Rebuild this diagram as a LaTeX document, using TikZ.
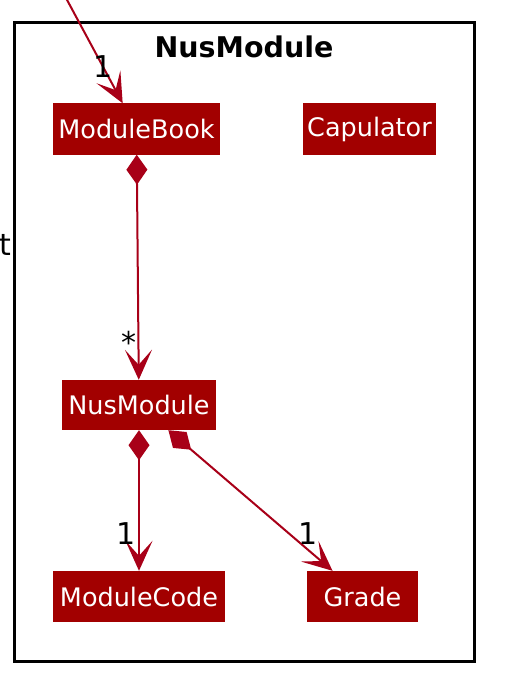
\documentclass[tikz,border=0pt]{standalone}
\usepackage{fontspec}
\setmainfont{DejaVu Sans}
\usetikzlibrary{arrows.meta}
\definecolor{boxred}{RGB}{162,0,0}
\definecolor{linered}{RGB}{168,0,24}
\begin{document}
\begin{tikzpicture}[x=1pt,y=-1pt,
  cls/.style={fill=boxred,draw=none,text=white,inner sep=0pt,font=\fontsize{25.5}{25.5}\selectfont,minimum height=51pt},
  conn/.style={draw=linered,line width=2pt},
  comp/.style={conn,{Diamond[length=30pt,width=21pt]}-{Stealth[length=30pt,width=27pt,inset=15pt]}},
  assoc/.style={conn,-{Stealth[length=30pt,width=27pt,inset=15pt]}},
  mult/.style={font=\fontsize{30}{30}\selectfont,inner sep=0pt}]
\useasboundingbox (0,0) rectangle (508,674);
\draw[line width=3pt] (14,23) rectangle (474,661);
\node[font=\bfseries\fontsize{28.5}{28.5}\selectfont] (title) at (244,47) {NusModule};
\node[cls,minimum width=167pt] (MB) at (136.5,129) {ModuleBook};
\node[cls,minimum width=133pt] (Cap) at (369.5,129) {Capulator};
\node[cls,minimum width=154pt,minimum height=50pt] (NM) at (139,405) {NusModule};
\node[cls,minimum width=172pt] (MC) at (139,596.5) {ModuleCode};
\node[cls,minimum width=111pt] (Gr) at (362.5,596.5) {Grade};
\coordinate (in) at (66,-2);
\draw[assoc] (in) -- (MB);
\draw[comp] (MB) -- (NM);
\draw[comp] (NM) -- (MC);
\draw[comp] (NM) -- (Gr);
\node[mult] (l1) at (103,67) {1};
\node[mult] (l2) at (129,342) {*};
\node[mult] (l3) at (126.5,534) {1};
\node[mult] (l4) at (308,534) {1};
\node[mult,anchor=west] (t) at (-1,245) {t};
\end{tikzpicture}
\end{document}
